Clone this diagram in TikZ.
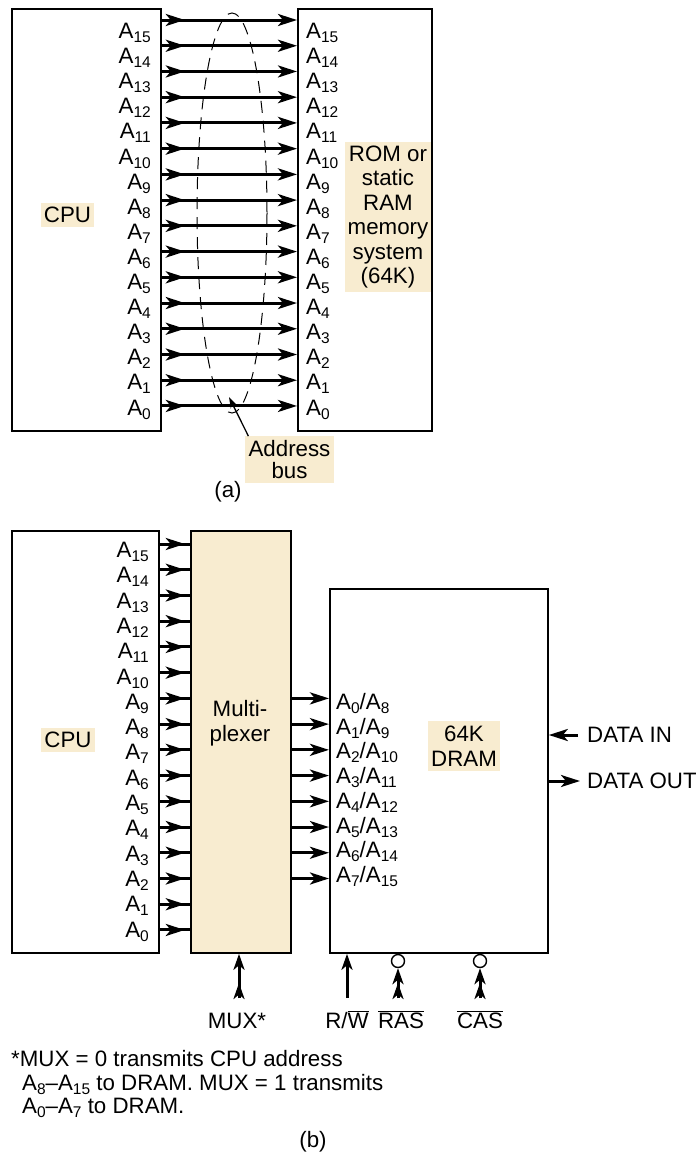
\documentclass[tikz,border=0pt]{standalone}
\usepackage{fontspec}
\setmainfont{Liberation Sans}
\usetikzlibrary{arrows.meta}
\definecolor{tanfill}{RGB}{248,236,208}
\newcommand{\mysub}[1]{\raisebox{-4pt}{\fontsize{15.5}{15.5}\selectfont #1}}
\begin{document}
\begin{tikzpicture}[x=1pt,y=-1pt,
  font=\fontsize{22.3}{25}\selectfont,
  box/.style={draw, line width=1.8pt, inner sep=0pt, anchor=north west},
  lbl/.style={fill=tanfill, inner xsep=4pt, inner ysep=4.5pt, align=center},
  txt/.style={inner sep=0pt},
  bus/.style={line width=3pt, -{Stealth[length=19pt,width=12pt,inset=5pt]}},
  busb/.style={line width=3pt, -{Stealth[length=16pt,width=11pt,inset=4.5pt]}},
  plain/.style={line width=3pt},
  thinarrow/.style={line width=1.3pt, -{Stealth[length=11pt,width=7pt]}}]
\useasboundingbox (0,0) rectangle (696,1157);

% ---------------- (a) ----------------
\node[box, minimum width=149pt, minimum height=422pt] (cpua) at (11,8) {};
\node[box, minimum width=134pt, minimum height=422pt] (rama) at (297,8) {};
\foreach \k in {0,...,15}{
  \pgfmathsetmacro\ya{20+(15-\k)*25.73}
  \pgfmathsetmacro\ta{38.5+(15-\k)*25.1}
  \coordinate (ya\k) at (0,\ya);
  \draw[bus] (cpua.east |- ya\k) -- ++(23,0);
  \draw[bus] (cpua.east |- ya\k) -- (rama.west |- ya\k);
  \node[txt, anchor=base east] (la\k) at (151,\ta) {A\mysub{\k}};
  \node[txt, anchor=base west] (ra\k) at (306,\ta) {A\mysub{\k}};
}
\node[lbl, inner xsep=3pt] (cpual) at (67.5,215) {CPU};
\node[lbl, inner xsep=3pt, inner ysep=3.5pt, font=\fontsize{22.3}{24.5}\selectfont] (roml) at (388,217)
  {ROM or\\static\\RAM\\memory\\system\\(64K)};
\draw[line width=1pt, dash pattern=on 12pt off 8pt] (232,213) ellipse [x radius=35, y radius=200];
\node[lbl, inner xsep=4pt, inner ysep=4pt, font=\fontsize{22.3}{22}\selectfont] (addr) at (289.5,459.5) {Address\\bus};
\coordinate (addrtip) at (229,397);
\draw[thinarrow] ([xshift=4pt]addr.north west) -- (addrtip);
\node[txt] (capa) at (228,492) {(a)};

% ---------------- (b) ----------------
\node[box, minimum width=147pt, minimum height=422pt] (cpub) at (11,530) {};
\node[box, fill=tanfill, minimum width=100pt, minimum height=422pt] (mux) at (190,530) {};
\node[box, minimum width=218pt, minimum height=364pt] (dram) at (329,588) {};
\foreach \k in {0,...,15}{
  \pgfmathsetmacro\yb{544+(15-\k)*25.73}
  \pgfmathsetmacro\tb{557.5+(15-\k)*25.3}
  \coordinate (yb\k) at (0,\yb);
  \draw[bus] (cpub.east |- yb\k) -- ++(25,0);
  \draw[plain] (cpub.east |- yb\k) -- (mux.west |- yb\k);
  \node[txt, anchor=base east] (lb\k) at (149,\tb) {A\mysub{\k}};
}
\foreach \j in {0,...,7}{
  \pgfmathsetmacro\yd{544+(6+\j)*25.73}
  \pgfmathsetmacro\td{709.5+\j*24.7}
  \pgfmathtruncatemacro\jj{\j+8}
  \coordinate (yd\j) at (0,\yd);
  \draw[bus] (mux.east |- yd\j) -- (dram.west |- yd\j);
  \node[txt, anchor=base west] (ld\j) at (336,\td) {A\mysub{\j}/A\mysub{\jj}};
}
\node[lbl, inner xsep=3pt] (cpubl) at (68,740) {CPU};
\node[txt, align=center] (muxl) at (240,723) {Multi-\\plexer};
\node[lbl, inner xsep=3pt, inner ysep=5pt] (draml) at (464,746) {64K\\DRAM};

\node[txt, anchor=west] (din) at (587,735) {DATA IN};
\node[txt, anchor=west] (dout) at (587,781) {DATA OUT};
\draw[bus] ([xshift=-9pt]din.west) -- (dram.east |- din.west);
\draw[bus] (dram.east |- dout.west) -- ([xshift=-7pt]dout.west);

\coordinate (muxin) at (239,998);
\draw[busb] (muxin) -- (mux.south -| muxin);
\draw[busb] (muxin) -- ++(0,-15);
\coordinate (rwin) at (347,998);
\draw[busb] (rwin) -- (dram.south -| rwin);
\node[circle, draw, line width=1.4pt, minimum size=13pt, inner sep=0pt] (rasb) at (398,961) {};
\coordinate (rasin) at (398,998);
\draw[busb] (rasin) -- (rasb.south);
\draw[busb] (rasin) -- ++(0,-15);
\node[circle, draw, line width=1.4pt, minimum size=13pt, inner sep=0pt] (casb) at (480,961) {};
\coordinate (casin) at (480,998);
\draw[busb] (casin) -- (casb.south);
\draw[busb] (casin) -- ++(0,-15);

\node[txt, anchor=base] (muxlab) at (237,1028) {MUX*};
\node[txt, anchor=base] (rwlab) at (347,1028) {R/$\overline{\hbox{W}}$};
\node[txt, anchor=base] (raslab) at (401,1028) {$\overline{\hbox{RAS}}$};
\node[txt, anchor=base] (caslab) at (480,1028) {$\overline{\hbox{CAS}}$};

\node[txt, anchor=base west] (fn1) at (11,1066) {*MUX = 0 transmits CPU address};
\node[txt, anchor=base west] (fn2) at (22,1090) {A\mysub{8}–A\mysub{15} to DRAM. MUX = 1 transmits};
\node[txt, anchor=base west] (fn3) at (22,1113) {A\mysub{0}–A\mysub{7} to DRAM.};
\node[txt] (capb) at (313,1142) {(b)};
\end{tikzpicture}
\end{document}
